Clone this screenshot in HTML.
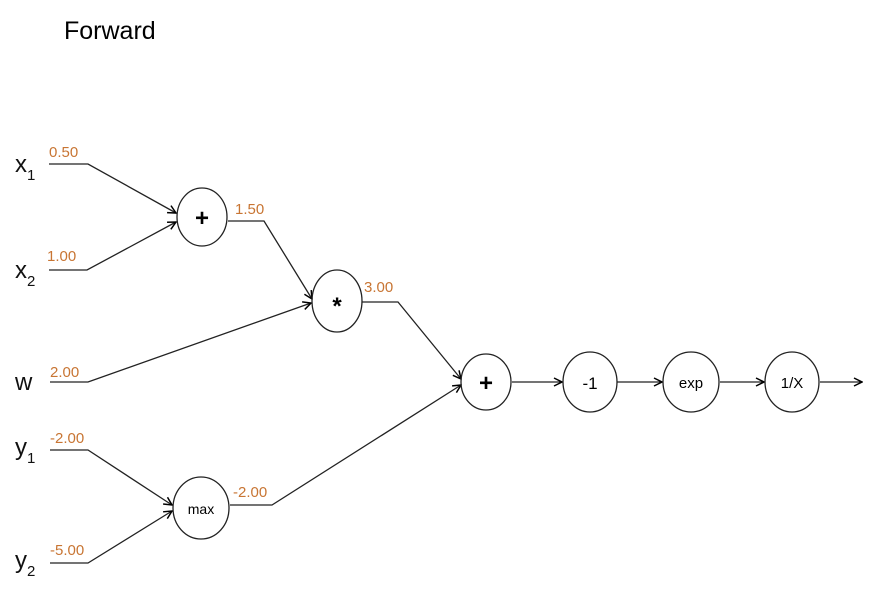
<!DOCTYPE html>
<html><head><style>body{margin:0;background:#fff}</style></head><body>
<svg width="878" height="596" xmlns="http://www.w3.org/2000/svg" font-family="Liberation Sans, sans-serif">
<defs><marker id="a" markerWidth="10" markerHeight="10" refX="9" refY="5" orient="auto" markerUnits="userSpaceOnUse"><path d="M1,1 L9,5 L1,9" fill="none" stroke="#000" stroke-width="1.5"/></marker></defs>
<text x="64" y="39" font-size="25">Forward</text>
<g stroke="#222" stroke-width="1.3" fill="none">
<polyline points="49,164 88,164 176,213" marker-end="url(#a)"/>
<polyline points="49,270 87,270 176,222" marker-end="url(#a)"/>
<polyline points="228,221 264,221 312,299" marker-end="url(#a)"/>
<polyline points="50,382 88,382 311,303" marker-end="url(#a)"/>
<polyline points="362,302 398,302 461,379" marker-end="url(#a)"/>
<polyline points="50,450 88,450 172,505" marker-end="url(#a)"/>
<polyline points="50,563 88,563 172,511" marker-end="url(#a)"/>
<polyline points="230,505 272,505 461,385" marker-end="url(#a)"/>
<line x1="512" y1="382" x2="562" y2="382" marker-end="url(#a)"/>
<line x1="617" y1="382" x2="662" y2="382" marker-end="url(#a)"/>
<line x1="720" y1="382" x2="764" y2="382" marker-end="url(#a)"/>
<line x1="820" y1="382" x2="862" y2="382" marker-end="url(#a)"/>
<ellipse cx="202" cy="217" rx="25" ry="29"/>
<ellipse cx="337" cy="301" rx="25" ry="31"/>
<ellipse cx="486" cy="382" rx="25" ry="28"/>
<ellipse cx="590" cy="382" rx="27" ry="30"/>
<ellipse cx="691" cy="382" rx="28" ry="30"/>
<ellipse cx="792" cy="382" rx="27" ry="30"/>
<ellipse cx="201" cy="508" rx="28" ry="31"/>
</g>
<g font-size="24" text-anchor="middle" font-weight="bold">
<text x="202" y="226">+</text><text x="337" y="314">*</text><text x="486" y="391">+</text>
</g>
<g text-anchor="middle">
<text x="590" y="389" font-size="17">-1</text><text x="691" y="388" font-size="15">exp</text>
<text x="792" y="388" font-size="15">1/X</text><text x="201" y="514" font-size="14">max</text>
</g>
<g font-size="24" fill="#111">
<text x="15" y="172">x<tspan font-size="15" dy="8">1</tspan></text>
<text x="15" y="278">x<tspan font-size="15" dy="8">2</tspan></text>
<text x="15" y="390">w</text>
<text x="15" y="455">y<tspan font-size="15" dy="8">1</tspan></text>
<text x="15" y="568">y<tspan font-size="15" dy="8">2</tspan></text>
</g>
<g font-size="15" fill="#c87533">
<text x="49" y="157">0.50</text><text x="47" y="261">1.00</text><text x="235" y="214">1.50</text>
<text x="364" y="292">3.00</text><text x="50" y="377">2.00</text><text x="50" y="443">-2.00</text>
<text x="233" y="497">-2.00</text><text x="50" y="555">-5.00</text>
</g>
</svg>
</body></html>
